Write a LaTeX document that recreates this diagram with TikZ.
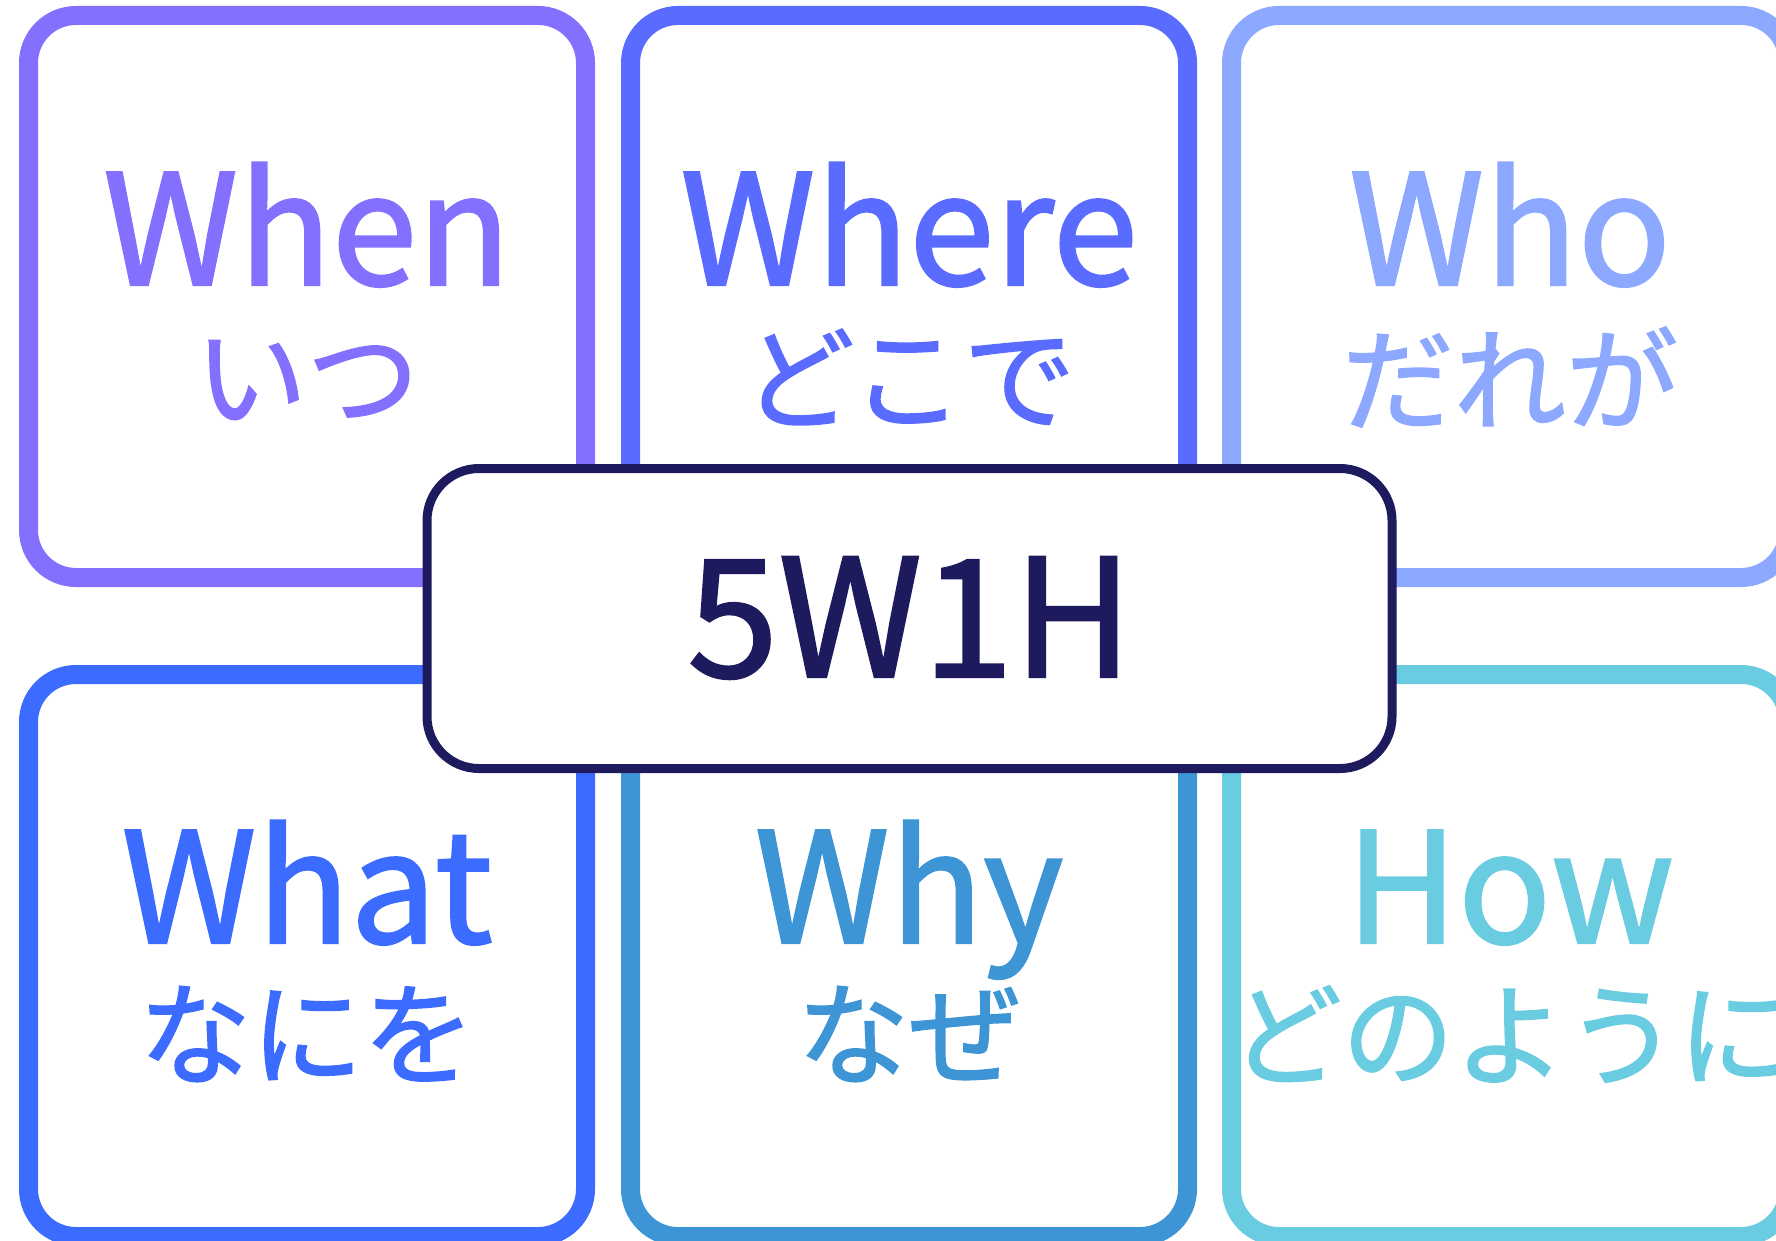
\documentclass[tikz,border=0pt]{standalone}
\usepackage{fontspec}
\setmainfont{Noto Sans CJK JP}[FakeBold=1.4,BoldFont=Noto Sans CJK JP]
\usepackage{xcolor}
\usepackage{tikz}
\definecolor{whencol}{HTML}{8470FF}
\definecolor{wherecol}{HTML}{5A6CFF}
\definecolor{whocol}{HTML}{8CA8FF}
\definecolor{whatcol}{HTML}{3B6BFF}
\definecolor{whycol}{HTML}{3D95D6}
\definecolor{howcol}{HTML}{6ACCE0}
\definecolor{navy}{HTML}{1E1A5E}
\tikzstyle{card}=[rectangle,rounded corners=23.75pt,line width=9.5pt,minimum width=278.5pt,minimum height=281pt,inner sep=0pt]
\tikzstyle{hub}=[draw=navy,fill=white,rectangle,rounded corners=26pt,line width=4.5pt,minimum width=482.5pt,minimum height=150pt,inner sep=0pt]
\tikzstyle{word}=[anchor=base,inner sep=0pt,font=\fontsize{77}{77}\selectfont]
\tikzstyle{kana}=[inner sep=0pt,font=\fontsize{56}{56}\selectfont]

\begin{document}
\begin{tikzpicture}[x=0.5pt,y=-0.5pt]
	\useasboundingbox (0,0) rectangle (1776,1241);
	% top row
	\node[card,draw=whencol]  (when)  at (307,296.5)  {};
	\node[card,draw=wherecol] (where) at (909,296.5)  {};
	\node[card,draw=whocol]   (who)   at (1510,296.5) {};
	% bottom row
	\node[card,draw=whatcol]  (what)  at (307,955.5)  {};
	\node[card,draw=whycol]   (why)   at (909,955.5)  {};
	\node[card,draw=howcol]   (how)   at (1510,955.5) {};
	% labels
	\node[word,text=whencol]  (whenEn)  at (307,285)  {When};
	\node[kana,text=whencol]  (whenJa)  at (307,380)  {いつ};
	\node[word,text=wherecol] (whereEn) at (909,285)  {Where};
	\node[kana,text=wherecol] (whereJa) at (909,377)  {どこで};
	\node[word,text=whocol]   (whoEn)   at (1510,285) {Who};
	\node[kana,text=whocol]   (whoJa)   at (1510,377) {だれが};
	\node[word,text=whatcol]  (whatEn)  at (307,943)  {What};
	\node[kana,text=whatcol]  (whatJa)  at (307,1034) {なにを};
	\node[word,text=whycol]   (whyEn)   at (909,943)  {Why};
	\node[kana,text=whycol]   (whyJa)   at (909,1034) {なぜ};
	\node[word,text=howcol]   (howEn)   at (1510,943) {How};
	\node[kana,text=howcol]   (howJa)   at (1510,1034) {どのように};
	% centre
	\node[hub] (hub) at (909.5,618.5) {};
	\node[word,text=navy,font=\fontsize{82}{82}\selectfont] (title) at (910,677) {5W1H};
\end{tikzpicture}
\end{document}
